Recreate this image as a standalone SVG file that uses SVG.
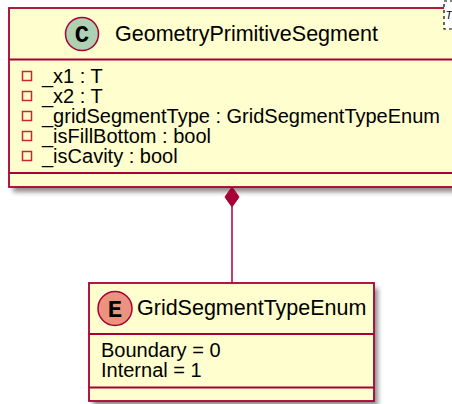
<svg xmlns="http://www.w3.org/2000/svg" width="452" height="404" viewBox="0 0 452 404">
<style>
.box{fill:#FEFECE;stroke:#A80036;stroke-width:1.8}
.sep{stroke:#A80036;stroke-width:1.8}
.name{font-family:"Liberation Sans",Arial,sans-serif;font-size:21.5px;fill:#000}
.attr{font-family:"Liberation Sans",Arial,sans-serif;font-size:20px;fill:#000}
.ico{fill:none;stroke:#C82930;stroke-width:1.5}
.letter{font-family:"Liberation Mono","Courier New",monospace;font-weight:bold;font-size:24px;fill:#000}
.edge{stroke:#A80036;stroke-width:1.5;fill:none}
.shadow{fill:#000;opacity:0.45}
</style>
<defs>
<filter id="sh" x="-10%" y="-10%" width="130%" height="140%">
<feGaussianBlur stdDeviation="2.5"/>
</filter>
</defs>
<rect width="452" height="404" fill="#FFFFFF"/>
<g id="GeometryPrimitiveSegment">
<rect class="shadow" x="13" y="13" width="460" height="179" filter="url(#sh)"/>
<rect class="box" x="9" y="8" width="460" height="179"/>
<circle cx="82" cy="34" r="16.5" fill="#ADD1B2" stroke="#A80036" stroke-width="1.5"/>
<text class="letter" x="82" y="42" text-anchor="middle">C</text>
<text class="name" x="115" y="41">GeometryPrimitiveSegment</text>
<line class="sep" x1="9" y1="59.5" x2="460" y2="59.5"/>
<rect class="ico" x="22.5" y="71.5" width="9" height="9"/>
<text class="attr" x="42" y="83">_x1 : T</text>
<rect class="ico" x="22.5" y="91.5" width="9" height="9"/>
<text class="attr" x="42" y="103">_x2 : T</text>
<rect class="ico" x="22.5" y="111.5" width="9" height="9"/>
<text class="attr" x="42" y="123">_gridSegmentType : GridSegmentTypeEnum</text>
<rect class="ico" x="22.5" y="131.5" width="9" height="9"/>
<text class="attr" x="42" y="143">_isFillBottom : bool</text>
<rect class="ico" x="22.5" y="151.5" width="9" height="9"/>
<text class="attr" x="42" y="163">_isCavity : bool</text>
<line class="sep" x1="9" y1="173" x2="460" y2="173"/>
<rect x="444" y="1" width="20" height="28" fill="#FFFFFF" stroke="#000" stroke-width="1.2" stroke-dasharray="3,3"/>
<text x="445.5" y="19" font-family="'Liberation Sans',Arial,sans-serif" font-style="italic" font-size="11px" fill="#000">T</text>
</g>
<g id="GridSegmentTypeEnum">
<rect class="shadow" x="93" y="288" width="285" height="118" filter="url(#sh)"/>
<rect class="box" x="89" y="283" width="285" height="118"/>
<circle cx="115" cy="308.5" r="17" fill="#EB937F" stroke="#A80036" stroke-width="1.5"/>
<text class="letter" x="115" y="316.5" text-anchor="middle">E</text>
<text class="name" x="137" y="314.5">GridSegmentTypeEnum</text>
<line class="sep" x1="89" y1="334" x2="374" y2="334"/>
<text class="attr" x="101" y="357">Boundary = 0</text>
<text class="attr" x="101" y="377">Internal = 1</text>
<line class="sep" x1="89" y1="387.5" x2="374" y2="387.5"/>
</g>
<g id="connectors">
<line class="edge" x1="232" y1="207" x2="232" y2="283"/>
<polygon points="232,187 239,197 232,207 225,197" fill="#A80036" stroke="#A80036" stroke-width="1"/>
</g>
</svg>
